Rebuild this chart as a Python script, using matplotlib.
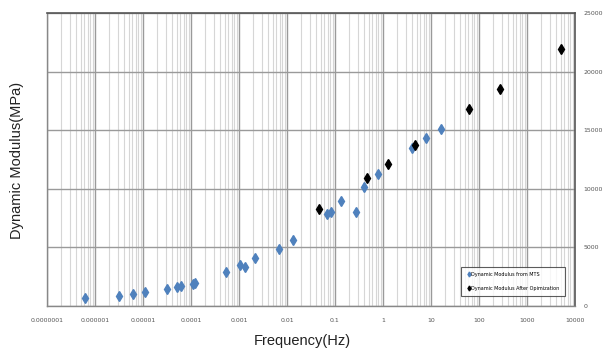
import matplotlib
matplotlib.use("Agg")
import matplotlib.pyplot as plt
from matplotlib.ticker import FixedLocator, LogLocator, NullFormatter

# Data
mts_freq = [6.2e-7, 3.1e-6, 6.3e-6, 1.08e-5, 3.1e-5, 5.2e-5, 6.1e-5, 1.09e-4, 1.2e-4,
            5.4e-4, 1.05e-3, 1.35e-3, 2.15e-3, 6.8e-3, 1.35e-2, 0.067, 0.081, 0.135,
            0.27, 0.40, 0.80, 3.96, 7.9, 15.9]
mts_mod = [657, 853, 1050, 1220, 1450, 1620, 1680, 1900, 1990,
           2870, 3470, 3330, 4120, 4840, 5660, 7820, 8000, 8960,
           8000, 10130, 11230, 13500, 14330, 15100]

opt_freq = [0.047, 0.46, 1.27, 4.72, 63, 275, 5000]
opt_mod = [8270, 10920, 12110, 13700, 16830, 18540, 21920]

x_ticks = [1e-7, 1e-6, 1e-5, 1e-4, 1e-3, 1e-2, 1e-1, 1, 10, 100, 1000, 10000]
x_tick_labels = ["0.0000001", "0.000001", "0.00001", "0.0001", "0.001", "0.01",
                 "0.1", "1", "10", "100", "1000", "10000"]
y_ticks = [0, 5000, 10000, 15000, 20000, 25000]
y_tick_labels = ["0", "5000", "10000", "15000", "20000", "25000"]

fig = plt.figure(figsize=(6.04, 3.59), dpi=100)
ax = fig.add_axes([47/604, 1-306/359, (575-47)/604, (306-13)/359])

ax.set_xscale("log")
ax.set_xlim(1e-7, 1e4)
ax.set_ylim(0, 25000)

ax.xaxis.set_major_locator(FixedLocator(x_ticks))
ax.set_xticklabels(x_tick_labels)
ax.xaxis.set_minor_locator(LogLocator(base=10, subs=range(2, 10), numticks=100))
ax.xaxis.set_minor_formatter(NullFormatter())
ax.set_yticks(y_ticks)
ax.set_yticklabels(y_tick_labels)

ax.yaxis.tick_right()
ax.tick_params(axis="both", which="both", length=0, labelsize=4.5, labelcolor="#555555")
ax.tick_params(axis="x", pad=9)
ax.tick_params(axis="y", pad=6)

ax.grid(True, which="major", axis="both", color="#9a9a9a", linewidth=1.0)
ax.grid(True, which="minor", axis="x", color="#d6d6d6", linewidth=0.8)
ax.set_axisbelow(True)

for s in ["top", "right"]:
    ax.spines[s].set_color("#555555")
    ax.spines[s].set_linewidth(1.2)
for s in ["left", "bottom"]:
    ax.spines[s].set_color("#888888")
    ax.spines[s].set_linewidth(1.0)

ax.plot(mts_freq, mts_mod, linestyle="none", marker="d", markersize=5.5,
        color="#4F81BD", label="Dynamic Modulus from MTS")
ax.plot(opt_freq, opt_mod, linestyle="none", marker="d", markersize=5.5,
        color="#000000", label="Dynamic Modulus After Opimization")

leg = ax.legend(loc="lower right", bbox_to_anchor=(0.985, 0.025), fontsize=3.5,
                frameon=True, fancybox=False, edgecolor="#333333",
                handletextpad=0.1, markerscale=0.45, handlelength=0.8,
                borderpad=1.1, labelspacing=1.8)
leg.get_frame().set_linewidth(0.8)

fig.text(0.5, 0.03, "Frequency(Hz)", ha="center", va="bottom", fontsize=10.5,
         color="#222222", family="Liberation Sans")
fig.text(0.028, 1-160/359, "Dynamic Modulus(MPa)", ha="center", va="center",
         rotation=90, fontsize=10.5, color="#222222", family="Liberation Sans")

fig.savefig("out.png", dpi=100)
